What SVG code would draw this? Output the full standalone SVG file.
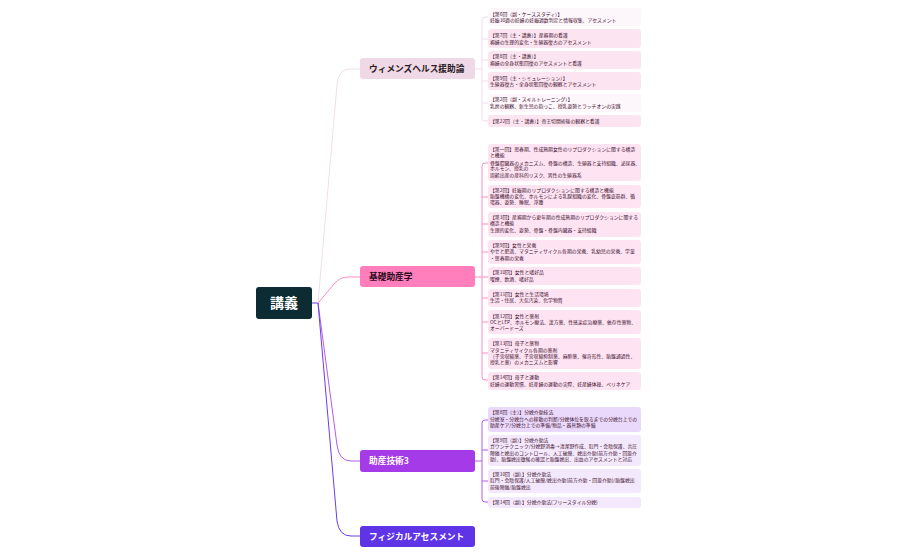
<svg xmlns="http://www.w3.org/2000/svg" width="897" height="555" viewBox="0 0 897 555">
<style>
text{font-family:"Noto Sans CJK JP","Noto Sans",sans-serif}
.m{font-size:8.7px;font-weight:700}
.c{font-size:4.85px;fill:#3c0c2c}
.p{fill:#fce5f0}.l{fill:#fdf6fa}.b{fill:#fee4f2}.t1{fill:#ead9fa}.t2{fill:#f4e9fc}
.f{fill:none;stroke-width:1}
</style>
<rect width="897" height="555" fill="#fff"/>
<g id="connectors">
<path d="M312 303H318" class="f" stroke="#6a3de8"/>
<path d="M318 303L337 85Q338 69 350 69H360" class="f" stroke="#f3dcea"/>
<path d="M318 303L335 283Q340 277 348 277H360" class="f" stroke="#ff8cc6"/>
<path d="M318 303L337 445Q339 461 351 461H360" class="f" stroke="#b65bf0" stroke-width="1.2"/>
<path d="M318 303L337 521Q339 536 351 536H360" class="f" stroke="#6a3de8" stroke-width="1.2"/>
<g stroke="#f3dcea" class="f"><path d="M475 69H482"/><path d="M488 17H485Q482 17 482 20V118Q482 121 485 121H488"/><path d="M482 39H488M482 60H488M482 81H488M482 103H488"/></g>
<g stroke="#ff8cc6" class="f"><path d="M475 277H482"/><path d="M488 163H485Q482 163 482 166V377Q482 380 485 380H488"/><path d="M482 197H488M482 224H488M482 252H488M482 277H488M482 298H488M482 322H488M482 353H488"/></g>
<g stroke="#b65bf0" class="f"><path d="M475 461H482"/><path d="M488 420H485Q482 420 482 423V499Q482 502 485 502H488"/><path d="M482 450H488M482 481H488"/></g>
</g>
<g id="root"><rect x="256" y="287" width="56" height="32" rx="3" fill="#0c2b33"/><text x="284" y="308" text-anchor="middle" font-size="14" font-weight="700" fill="#fff">講義</text></g>
<g id="n-women"><rect x="360" y="58" width="115" height="21" rx="3" fill="#efd9e6"/><text x="369" y="72" class="m" fill="#2a1a24">ウィメンズヘルス援助論</text></g>
<g id="n-basic"><rect x="360" y="266" width="115" height="21" rx="3" fill="#ff7ebb"/><text x="369" y="280" class="m" fill="#2a0a1c">基礎助産学</text></g>
<g id="n-tech"><rect x="360" y="450" width="115" height="22" rx="3" fill="#a43ae8"/><text x="369" y="464" class="m" fill="#fff">助産技術3</text></g>
<g id="n-phys"><rect x="360" y="526" width="115" height="21" rx="3" fill="#5f33e6"/><text x="369" y="540" class="m" fill="#fff">フィジカルアセスメント</text></g>

<g id="w1"><rect x="488" y="8" width="153" height="18" rx="3" class="l"/><text class="c"><tspan x="490" y="15.5">【第6回（副・ケーススタディ）】</tspan><tspan x="490" y="21.5">妊娠30週の妊婦の妊娠週数判定と情報収集、アセスメント</tspan></text></g>
<g id="w2"><rect x="488" y="29" width="153" height="19" rx="3" class="p"/><text class="c"><tspan x="490" y="36.5">【第7回（主・講義）】産褥期の看護</tspan><tspan x="490" y="43.5">褥婦の生理的変化・生殖器復古のアセスメント</tspan></text></g>
<g id="w3"><rect x="488" y="51" width="153" height="18" rx="3" class="p"/><text class="c"><tspan x="490" y="58">【第8回（主・講義）】</tspan><tspan x="490" y="64.5">褥婦の全身状態回復のアセスメントと看護</tspan></text></g>
<g id="w4"><rect x="488" y="72" width="153" height="18" rx="3" class="p"/><text class="c"><tspan x="490" y="79.5">【第9回（主・シミュレーション）】</tspan><tspan x="490" y="86">生殖器復古・全身状態回復の観察とアセスメント</tspan></text></g>
<g id="w5"><rect x="488" y="94" width="153" height="18" rx="3" class="l"/><text class="c"><tspan x="490" y="100.5">【第2回（副・スキルトレーニング）】</tspan><tspan x="490" y="107.5">乳房の観察、新生児の抱っこ、授乳姿勢とラッチオンの実践</tspan></text></g>
<g id="w6"><rect x="488" y="115" width="153" height="12" rx="3" class="p"/><text class="c" x="490" y="122.5">【第22回（主・講義）】帝王切開術後の観察と看護</text></g>

<g id="b1"><rect x="488" y="144" width="153" height="37" rx="3" class="b"/><text class="c"><tspan x="490" y="151">【第一回】思春期、性成熟期女性のリプロダクションに関する構造</tspan><tspan x="490" y="157">と機能</tspan><tspan x="490" y="164.5">骨盤腔臓器のメカニズム、骨盤の構造、生殖器と支持組織、泌尿器、</tspan><tspan x="490" y="170">ホルモン、授乳の</tspan><tspan x="490" y="176.5">周齢出産の産科的リスク、男性の生殖器系</tspan></text></g>
<g id="b2"><rect x="488" y="185" width="153" height="23" rx="3" class="b"/><text class="c"><tspan x="490" y="191.5">【第2回】妊娠期のリプロダクションに関する構造と機能</tspan><tspan x="490" y="198">胎盤機構の変化、ホルモンによる乳腺組織の変化、骨盤底筋群、循</tspan><tspan x="490" y="204">環器、姿勢、睡眠、浮腫</tspan></text></g>
<g id="b3"><rect x="488" y="212" width="153" height="25" rx="3" class="b"/><text class="c"><tspan x="490" y="219">【第3回】産褥期から更年期の性成熟期のリプロダクションに関する</tspan><tspan x="490" y="225">構造と機能</tspan><tspan x="490" y="232">生理的変化、姿勢、骨盤・骨盤内臓器・支持組織</tspan></text></g>
<g id="b4"><rect x="488" y="240" width="153" height="24" rx="3" class="b"/><text class="c"><tspan x="490" y="247">【第9回】女性と栄養</tspan><tspan x="490" y="253">やせと肥満、マタニティサイクル各期の栄養、乳幼児の栄養、学童</tspan><tspan x="490" y="259.5">・思春期の栄養</tspan></text></g>
<g id="b5"><rect x="488" y="267" width="153" height="18" rx="3" class="b"/><text class="c"><tspan x="490" y="274">【第10回】女性と嗜好品</tspan><tspan x="490" y="280.5">喫煙、飲酒、嗜好品</tspan></text></g>
<g id="b6"><rect x="488" y="289" width="153" height="18" rx="3" class="b"/><text class="c"><tspan x="490" y="296">【第11回】女性と生活環境</tspan><tspan x="490" y="302">生活・住居、大気汚染、化学物質</tspan></text></g>
<g id="b7"><rect x="488" y="310" width="153" height="24" rx="3" class="b"/><text class="c"><tspan x="490" y="317.5">【第12回】女性と薬剤</tspan><tspan x="490" y="323.5">OCとLEP、ホルモン療法、漢方薬、性感染症治療薬、依存性薬物、</tspan><tspan x="490" y="330">オーバードーズ</tspan></text></g>
<g id="b8"><rect x="488" y="338" width="153" height="31" rx="3" class="b"/><text class="c"><tspan x="490" y="345">【第13回】母子と薬物</tspan><tspan x="490" y="351.5">マタニティサイクル各期の薬剤</tspan><tspan x="490" y="358">（子宮収縮薬、子宮収縮抑制薬、麻酔薬、催奇形性、胎盤通過性、</tspan><tspan x="490" y="364">授乳と薬）のメカニズムと影響</tspan></text></g>
<g id="b9"><rect x="488" y="372" width="153" height="18" rx="3" class="b"/><text class="c"><tspan x="490" y="379">【第14回】母子と運動</tspan><tspan x="490" y="386">妊婦の運動習慣、妊産婦の運動の実際、妊産婦体操、ペリネケア</tspan></text></g>

<g id="t1"><rect x="488" y="407" width="153" height="25" rx="3" class="t1"/><text class="c"><tspan x="490" y="414">【第8回（主）】分娩介助技法</tspan><tspan x="490" y="420.5">分娩室・分娩台への移動の判断/分娩体位を取るまでの分娩台上での</tspan><tspan x="490" y="427">助産ケア/分娩台上での準備/物品・器具類の準備</tspan></text></g>
<g id="t2"><rect x="488" y="435" width="153" height="31" rx="3" class="t2"/><text class="c"><tspan x="490" y="442">【第9回（副）】分娩介助法</tspan><tspan x="490" y="448">ガウンテクニック/分娩野消毒→清潔野作成、肛門・会陰保護、共圧</tspan><tspan x="490" y="454.5">陣痛と娩出のコントロール、人工破膜、娩出介助(前方介助・回旋介</tspan><tspan x="490" y="460.5">助)、胎盤娩出徴候の確認と胎盤娩出、出血のアセスメントと対応</tspan></text></g>
<g id="t3"><rect x="488" y="469" width="153" height="24" rx="3" class="t2"/><text class="c"><tspan x="490" y="476">【第10回（副）】分娩介助法</tspan><tspan x="490" y="482">肛門・会陰保護/人工破膜/娩出介助(前方介助・回旋介助)/胎盤娩出</tspan><tspan x="490" y="488.5">前後陣痛/胎盤娩出</tspan></text></g>
<g id="t4"><rect x="488" y="497" width="153" height="11" rx="3" class="t2"/><text class="c" x="490" y="504">【第14回（副）】分娩介助法(フリースタイル分娩)</text></g>
</svg>
